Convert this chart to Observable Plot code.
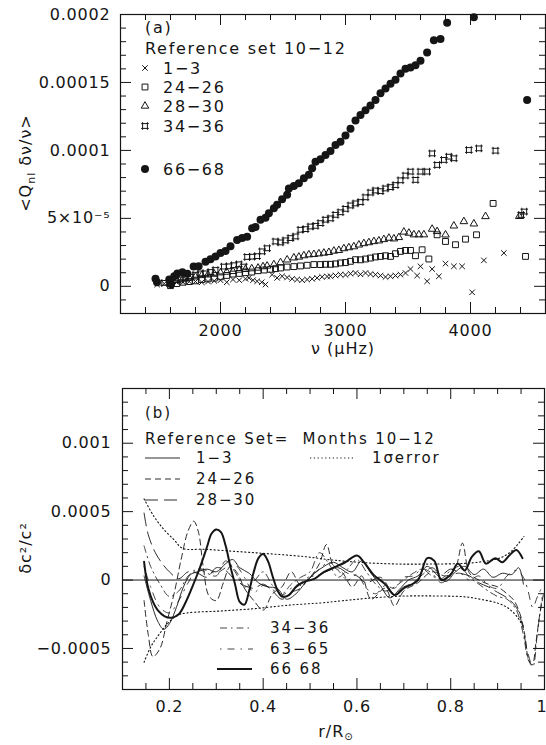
<!DOCTYPE html>
<html><head><meta charset="utf-8">
<script src="https://cdn.jsdelivr.net/npm/d3@7"></script>
<script src="https://cdn.jsdelivr.net/npm/@observablehq/plot@0.6"></script>
<style>
body{margin:0;background:#fff;}
#wrap{position:relative;width:546px;height:745px;background:#fff;}
#wrap svg{position:absolute;left:0;display:block;}
svg text{font-family:"DejaVu Sans",sans-serif;}
g[aria-label="x-axis tick label"] text, g[aria-label="y-axis tick label"] text{letter-spacing:0.8px;}
</style></head><body><div id="wrap"></div>
<script>
// ================= Panel (a) data: nu (μHz) and <Q δν/ν> in units of 1e-5 =================
const seriesNamesA = ["1−3", "24−26", "28−30", "34−36", "66−68"];
const nu13 = [1493,1550,1600,1650,1700,1750,1800,1850,1900,1950,2000,2050,2100,2150,2200,2227,2260,2293,2330,2360,2413,2453,2493,2533,2573,2613,2653,2693,2733,2773,2813,2853,2880,2920,2960,3000,3040,3080,3120,3160,3200,3240,3280,3320,3360,3400,3440,3480,3520,3573,3600,3653,3693,3747,3800,3867,3933,4013,4107,4267];
const q13  = [0.13,0.2,0.25,0.3,0.3,0.35,0.35,0.3,0.35,0.4,0.45,0.3,0.5,0.45,0.55,0.62,0.45,0.37,0.3,0.13,0.86,0.62,0.74,0.65,0.55,0.5,0.45,0.5,0.55,0.62,0.7,0.72,0.74,0.8,0.86,0.84,0.93,0.98,0.88,0.98,0.9,0.86,0.79,0.69,0.74,0.79,0.86,0.98,1.27,0.79,1.47,0.37,1.27,0.74,1.67,1.47,1.47,-0.44,1.91,2.45];
const nu2426 = [1600,1650,1700,1750,1800,1850,1900,1950,2000,2050,2100,2150,2200,2250,2300,2350,2400,2440,2480,2533,2587,2640,2693,2747,2800,2840,2880,2920,2960,3000,3040,3080,3120,3160,3200,3240,3280,3320,3360,3400,3440,3480,3520,3560,3613,3667,3733,3800,3880,3960,4048,4181,4440];
const q2426  = [0.05,0.2,0.3,0.35,0.4,0.5,0.55,0.6,0.7,0.8,0.9,0.95,1.0,1.05,1.15,1.2,1.25,1.3,1.35,1.42,1.45,1.5,1.55,1.6,1.6,1.62,1.62,1.65,1.72,1.75,1.84,1.96,1.95,2.01,2.08,2.16,2.2,2.25,2.2,2.4,2.57,2.64,2.64,2.25,2.69,2.01,3.79,3.3,3.06,3.47,3.79,6.1,2.2];
const nu2830 = [1600,1650,1700,1750,1800,1850,1900,1950,2000,2050,2100,2150,2200,2250,2300,2340,2373,2427,2480,2533,2587,2627,2667,2707,2747,2787,2827,2867,2907,2947,2987,3027,3067,3107,3147,3187,3227,3267,3307,3347,3387,3427,3467,3507,3547,3587,3627,3693,3733,3800,3867,3947,4027,4120,4390];
const q2830  = [0.3,0.45,0.55,0.6,0.7,0.8,0.85,0.9,1.0,1.05,1.1,1.2,1.25,1.3,1.35,1.45,1.5,1.6,1.75,1.95,2.1,2.16,2.26,2.33,2.35,2.4,2.45,2.5,2.6,2.65,2.78,2.85,2.92,3.05,3.15,3.22,3.3,3.35,3.45,3.55,3.5,3.6,4.0,3.92,3.8,3.8,3.8,4.21,4.04,3.79,4.45,4.77,4.6,5.14,5.15];
const nu3436 = [1550,1600,1640,1680,1720,1760,1800,1840,1880,1920,1960,2027,2067,2107,2147,2187,2213,2253,2293,2333,2373,2440,2480,2520,2560,2600,2640,2680,2720,2760,2800,2840,2880,2920,2960,3000,3040,3080,3120,3160,3200,3240,3280,3320,3360,3400,3440,3480,3520,3560,3600,3653,3693,3733,3787,3827,3867,3987,4067,4200,4405,4430];
const q3436  = [0.25,0.35,0.45,0.5,0.6,0.7,0.85,0.95,0.95,1.05,1.2,1.45,1.47,1.55,1.62,1.45,2.16,2.18,2.22,2.57,2.8,3.3,3.23,3.38,3.55,3.67,4.16,4.21,4.4,4.45,4.65,4.9,5.0,5.26,5.45,5.7,5.95,6.1,6.2,6.55,6.9,7.05,7.0,7.2,7.3,7.45,7.8,8.15,8.44,7.83,8.44,8.44,9.78,8.93,9.3,9.54,9.42,10.03,10.15,9.98,5.25,5.5];
const nu6668 = [1480,1492,1590,1605,1630,1655,1695,1735,1785,1825,1880,1920,1960,2000,2040,2080,2133,2173,2213,2253,2280,2320,2360,2387,2427,2453,2493,2533,2547,2587,2627,2667,2707,2733,2760,2800,2840,2880,2920,2960,3000,3040,3080,3120,3160,3200,3240,3280,3320,3360,3400,3440,3480,3520,3560,3600,3653,3707,3760,3813,4027,4453];
const q6668  = [0.55,0.3,0.5,0.15,0.75,0.95,1.03,0.92,1.45,1.47,1.8,2.0,2.2,2.45,2.6,2.95,3.4,3.55,3.65,4.28,4.36,4.9,5.05,5.38,5.75,6.0,6.4,6.73,7.2,7.39,7.58,7.95,8.2,8.68,9.17,9.35,9.66,9.95,10.4,10.64,11.1,11.6,12.2,12.6,12.96,13.3,13.7,14.2,14.55,14.9,15.2,15.65,16.0,16.1,16.26,16.6,17.2,18.1,18.2,19.4,19.8,13.7];

// axis ticks and labels (a)
const aXMajor = [2000, 3000, 4000];
const aXMinor = [1400,1600,1800,2200,2400,2600,2800,3200,3400,3600,3800,4200,4400];
const aYMajor = [0, 5e-5, 1e-4, 1.5e-4, 2e-4];
const aYLabels = ["0", "5×10⁻⁵", "0.0001", "0.00015", "0.0002"];
const aYMinor = [-1e-5,1e-5,2e-5,3e-5,4e-5,6e-5,7e-5,8e-5,9e-5,1.1e-4,1.2e-4,1.3e-4,1.4e-4,1.6e-4,1.7e-4,1.8e-4,1.9e-4];

// ================= Panel (b) data: r/R and δc²/c² in units of 1e-4 =================
const seriesNamesB = ["1−3", "24−26", "28−30", "34−36", "63−65", "66 68"];
const r13 = [0.146,0.16,0.175,0.188,0.20,0.215,0.23,0.245,0.26,0.28,0.30,0.32,0.335,0.35,0.37,0.39,0.41,0.43,0.45,0.47,0.49,0.51,0.53,0.55,0.57,0.59,0.61,0.63,0.65,0.67,0.69,0.71,0.73,0.75,0.77,0.79,0.81,0.83,0.85,0.87,0.89,0.91,0.93,0.945,0.955];
const c13 = [0.3,-1.5,-3.0,-3.6,-3.2,-2.0,-0.5,0.4,0.6,0.8,0.6,1.2,1.5,0.9,0.5,-0.2,-0.5,-0.6,-1.4,-1.0,-0.2,0.5,1.0,1.3,0.9,0.6,1.4,0.5,-0.4,-1.3,-0.7,0.0,0.3,1.0,0.4,-0.1,0.6,1.0,0.4,0.8,0.2,0.5,0.4,0.9,-0.3];
const r2426 = [0.146,0.155,0.165,0.18,0.195,0.21,0.225,0.24,0.252,0.262,0.272,0.285,0.30,0.315,0.33,0.345,0.36,0.38,0.40,0.42,0.44,0.46,0.48,0.50,0.52,0.535,0.55,0.57,0.59,0.61,0.63,0.66,0.68,0.70,0.73,0.76,0.79,0.81,0.825,0.84,0.86,0.88,0.90,0.92,0.935,0.948,0.958,0.966,0.974,0.982,0.99,0.998];
const c2426 = [-1.5,-4.0,-5.6,-5.0,-3.0,-1.0,1.5,3.6,4.3,3.5,1.0,-1.2,-1.5,-0.2,1.0,0.5,-0.6,-1.5,-2.2,-1.0,-0.5,0.6,-0.4,0.2,1.2,2.6,1.0,0.5,-0.5,0.3,-1.4,-0.6,-1.9,-0.8,-0.2,0.6,0.3,0.9,2.7,0.5,0.0,-0.3,-0.5,-1.0,-1.5,-2.5,-4.0,-5.8,-6.2,-4.5,-2.5,-1.0];
const r2830 = [0.146,0.155,0.17,0.185,0.20,0.22,0.24,0.26,0.28,0.30,0.32,0.34,0.36,0.38,0.40,0.42,0.44,0.46,0.48,0.50,0.52,0.54,0.56,0.58,0.60,0.62,0.65,0.68,0.70,0.72,0.74,0.76,0.78,0.80,0.82,0.84,0.86,0.88,0.90,0.92,0.94,0.952,0.962,0.97];
const c2830 = [4.9,3.3,2.0,1.2,0.6,0.1,0.6,0.5,0.2,0.9,0.7,0.0,-0.4,-0.6,-0.3,-0.8,-1.4,-0.9,-0.6,0.2,0.4,0.7,0.9,0.5,0.3,-0.2,0.2,-1.0,-0.5,-0.2,0.4,0.9,0.4,0.8,0.5,0.3,-0.2,-0.5,-0.9,-1.3,-2.0,-3.2,-5.0,-6.0];
const r3436 = [0.146,0.16,0.18,0.20,0.22,0.24,0.26,0.28,0.30,0.32,0.34,0.36,0.38,0.40,0.42,0.44,0.46,0.48,0.50,0.52,0.54,0.56,0.58,0.60,0.62,0.64,0.66,0.68,0.70,0.72,0.74,0.76,0.78,0.80,0.82,0.84,0.86,0.88,0.90,0.92,0.94,0.955,0.965,0.975,0.985,0.995];
const c3436 = [2.5,1.0,-0.3,-1.2,-0.8,0.3,0.8,0.5,0.3,1.4,0.6,-0.5,-0.1,0.6,-0.4,-1.0,-0.3,0.2,0.6,2.0,1.2,0.2,0.8,1.5,0.6,-0.3,-0.8,-0.5,0.0,0.5,0.8,0.3,0.1,0.7,1.0,0.2,-0.3,-0.8,-1.2,-1.4,-2.2,-4.0,-5.8,-6.3,-3.8,-1.2];
const r6365 = [0.146,0.16,0.18,0.20,0.22,0.24,0.26,0.28,0.30,0.32,0.34,0.36,0.38,0.40,0.42,0.44,0.46,0.48,0.50,0.52,0.54,0.56,0.58,0.60,0.62,0.64,0.66,0.68,0.70,0.72,0.74,0.76,0.78,0.80,0.82,0.84,0.86,0.88,0.90,0.92,0.94,0.955,0.965,0.975,0.985,0.995];
const c6365 = [1.0,-0.5,-2.0,-2.4,-1.5,-0.2,0.8,0.7,0.5,0.9,1.1,0.2,-0.9,-0.4,-0.7,-1.1,-0.6,-0.2,0.3,0.8,1.3,0.7,0.0,0.4,-0.6,-1.0,-0.4,-0.6,0.2,0.3,0.8,0.5,-0.2,0.3,0.5,0.0,0.3,-0.4,-0.6,0.3,0.7,0.2,-0.8,-2.0,-1.2,-0.5];
const r6668 = [0.146,0.150,0.155,0.165,0.175,0.19,0.205,0.22,0.235,0.25,0.265,0.28,0.29,0.30,0.31,0.32,0.33,0.34,0.35,0.36,0.37,0.38,0.39,0.40,0.41,0.42,0.43,0.44,0.455,0.47,0.49,0.51,0.53,0.55,0.575,0.60,0.615,0.635,0.66,0.68,0.70,0.73,0.75,0.765,0.78,0.80,0.815,0.83,0.845,0.86,0.875,0.895,0.91,0.925,0.94,0.953];
const c6668 = [1.34,0.3,-0.6,-1.6,-2.2,-2.65,-2.75,-2.5,-1.6,-0.4,0.9,2.4,3.4,3.7,3.5,2.5,1.0,-0.3,-1.6,-1.8,-0.8,0.6,1.6,1.9,1.4,0.3,-0.7,-1.2,-1.1,-0.5,-0.1,0.1,0.6,0.9,1.3,1.8,1.3,0.4,-0.3,-1.1,-0.6,0.0,1.6,1.4,0.0,0.4,1.2,0.7,1.7,2.1,1.2,1.6,1.3,1.8,2.2,1.6];
const rErrUp = [0.146,0.167,0.189,0.210,0.228,0.274,0.346,0.417,0.489,0.546,0.617,0.689,0.760,0.831,0.867,0.903,0.924,0.942,0.956];
const errUp  = [5.93,4.65,3.67,2.94,2.32,2.25,2.08,1.91,1.71,1.47,1.27,1.17,1.17,1.22,1.34,1.59,1.96,2.57,3.18];
const rErrLo = [0.146,0.160,0.174,0.196,0.217,0.239,0.31,0.382,0.453,0.524,0.567,0.617,0.689,0.760,0.831,0.867,0.903,0.924,0.942,0.956];
const errLo  = [-6.01,-4.9,-4.17,-3.19,-2.58,-2.4,-2.26,-2.09,-1.84,-1.67,-1.52,-1.35,-1.18,-1.16,-1.23,-1.43,-1.72,-2.09,-2.7,-3.44];

const bXMajor = [0.2, 0.4, 0.6, 0.8, 1.0];
const bXLabels = ["0.2", "0.4", "0.6", "0.8", "1"];
const bXMinor = [0.15,0.25,0.3,0.35,0.45,0.5,0.55,0.65,0.7,0.75,0.85,0.9,0.95];
const bYMajor = [-5e-4, 0, 5e-4, 1e-3];
const bYLabels = ["−0.0005", "0", "0.0005", "0.001"];
const bYMinor = [-7e-4,-6e-4,-4e-4,-3e-4,-2e-4,-1e-4,1e-4,2e-4,3e-4,4e-4,6e-4,7e-4,8e-4,9e-4,1.1e-3,1.2e-3,1.3e-3];

// ================= helpers =================
const INK = "#151515";
const W = 546;
const rows = (xs, vs, k) => xs.map((x, i) => ({x, y: vs[i] * k}));
const hashSym = {draw(ctx, size) {
  const s = Math.sqrt(size) / 2, e = s * 0.6;
  ctx.moveTo(-s - e, -s); ctx.lineTo(s + e, -s);
  ctx.moveTo(-s - e, s); ctx.lineTo(s + e, s);
  ctx.moveTo(-s, -s - e); ctx.lineTo(-s, s + e);
  ctx.moveTo(s, -s - e); ctx.lineTo(s, s + e);
}};
function inwardTicks(xMaj, xMin, yMaj, yMin, pw, ph) {
  const o = {stroke: INK, strokeWidth: 1};
  const L = 11, l = 6;
  return [
    Plot.tickX(xMaj, {...o, x: d => d, insetTop: ph - L}),
    Plot.tickX(xMaj, {...o, x: d => d, insetBottom: ph - L}),
    Plot.tickX(xMin, {...o, x: d => d, insetTop: ph - l}),
    Plot.tickX(xMin, {...o, x: d => d, insetBottom: ph - l}),
    Plot.tickY(yMaj, {...o, y: d => d, insetRight: pw - L}),
    Plot.tickY(yMaj, {...o, y: d => d, insetLeft: pw - L}),
    Plot.tickY(yMin, {...o, y: d => d, insetRight: pw - l}),
    Plot.tickY(yMin, {...o, y: d => d, insetLeft: pw - l})
  ];
}
function addText(g, x, y, str, opts = {}) {
  const t = g.append("text").attr("x", x).attr("y", y).attr("dy", "0.35em")
    .attr("font-size", opts.size || 16).attr("fill", INK)
    .attr("text-anchor", opts.anchor || "start")
    .style("letter-spacing", (opts.ls ?? 1.7) + "px")
    .text(str);
  if (opts.rotate) t.attr("transform", `rotate(-90,${x},${y})`);
  return t;
}

// ================= Panel (a) =================
const mA = {t: 14, r: 1, b: 57, l: 120}, hA = 370, topA = 0;
const pwA = W - mA.l - mA.r, phA = hA - mA.t - mA.b;
const svgA = Plot.plot({
  width: W, height: hA,
  marginTop: mA.t, marginRight: mA.r, marginBottom: mA.b, marginLeft: mA.l,
  x: {domain: [1200, 4600]},
  y: {domain: [-2e-5, 2e-4]},
  style: {fontFamily: "DejaVu Sans", fontSize: "16px", background: "white", color: INK},
  marks: [
    ...inwardTicks(aXMajor, aXMinor, aYMajor, aYMinor, pwA, phA),
    Plot.axisX(aXMajor, {anchor: "bottom", tickSize: 0, tickPadding: 11, label: null, tickFormat: d => String(d), fontSize: 16}),
    Plot.axisY(aYMajor, {anchor: "left", tickSize: 0, tickPadding: 10, label: null, tickFormat: d => aYLabels[aYMajor.indexOf(d)], fontSize: 16}),
    Plot.dot(rows(nu13, q13, 1e-5), {x: "x", y: "y", symbol: "times", r: 2.6, stroke: INK, fill: "none", strokeWidth: 1}),
    Plot.dot(rows(nu2426, q2426, 1e-5), {x: "x", y: "y", symbol: "square", r: 3.3, stroke: INK, fill: "none", strokeWidth: 1}),
    Plot.dot(rows(nu2830, q2830, 1e-5), {x: "x", y: "y", symbol: "triangle", r: 2.8, stroke: INK, fill: "none", strokeWidth: 1}),
    Plot.dot(rows(nu3436, q3436, 1e-5), {x: "x", y: "y", symbol: hashSym, r: 2.7, stroke: INK, fill: "none", strokeWidth: 1}),
    Plot.dot(rows(nu6668, q6668, 1e-5), {x: "x", y: "y", symbol: "circle", r: 4, fill: INK, stroke: "none"}),
    Plot.frame({stroke: INK, strokeWidth: 1.2})
  ]
});
svgA.style.top = topA + "px";
document.getElementById("wrap").appendChild(svgA);
{
  const g = d3.select(svgA).append("g");
  addText(g, 145, 27, "(a)");
  addText(g, 145, 48, "Reference set 10−12");
  const symsA = [d3.symbolTimes, d3.symbolSquare, d3.symbolTriangle, hashSym, d3.symbolCircle];
  const rA = [2.6, 3.3, 2.8, 2.7, 4];
  const yA = [68, 87, 106, 126, 169];
  seriesNamesA.forEach((name, i) => {
    const filled = i === 4;
    g.append("path").attr("transform", `translate(145,${yA[i]})`)
      .attr("d", d3.symbol(symsA[i], Math.PI * rA[i] * rA[i])())
      .attr("fill", filled ? INK : "none").attr("stroke", filled ? "none" : INK).attr("stroke-width", 1);
    addText(g, 163, yA[i], name);
  });
  const t = addText(g, 25, 163, "<Q", {anchor: "middle", rotate: true, ls: 1});
  t.append("tspan").attr("font-size", 11).attr("dy", "4").text("nl");
  t.append("tspan").attr("dy", "-4").text(" δν/ν>");
  addText(g, 343, 348, "ν (μHz)", {anchor: "middle", ls: 1});
}

// ================= Panel (b) =================
const mB = {t: 18, r: 2, b: 56, l: 122}, hB = 375, topB = 370;
const pwB = W - mB.l - mB.r, phB = hB - mB.t - mB.b;
const K = 1e-4;
const lineStyles = [
  {data: rows(r13, c13, K), strokeWidth: 0.9, dash: null},
  {data: rows(r2426, c2426, K), strokeWidth: 0.9, dash: "6,4"},
  {data: rows(r2830, c2830, K), strokeWidth: 0.9, dash: "13,6"},
  {data: rows(r3436, c3436, K), strokeWidth: 0.8, dash: "7,4,1.5,4"},
  {data: rows(r6365, c6365, K), strokeWidth: 0.8, dash: "1.5,6,7,6"},
  {data: rows(r6668, c6668, K), strokeWidth: 2, dash: null}
];
const svgB = Plot.plot({
  width: W, height: hB,
  marginTop: mB.t, marginRight: mB.r, marginBottom: mB.b, marginLeft: mB.l,
  x: {domain: [0.1, 1.0]},
  y: {domain: [-8e-4, 1.4e-3]},
  style: {fontFamily: "DejaVu Sans", fontSize: "16px", background: "white", color: INK},
  marks: [
    ...inwardTicks(bXMajor, bXMinor, bYMajor, bYMinor, pwB, phB),
    Plot.axisX(bXMajor, {anchor: "bottom", tickSize: 0, tickPadding: 11, label: null, tickFormat: d => bXLabels[bXMajor.indexOf(d)], fontSize: 16}),
    Plot.axisY(bYMajor, {anchor: "left", tickSize: 0, tickPadding: 11, label: null, tickFormat: d => bYLabels[bYMajor.indexOf(d)], fontSize: 16}),
    Plot.ruleY([0], {stroke: INK, strokeWidth: 1}),
    Plot.line(rows(rErrUp, errUp, K), {x: "x", y: "y", stroke: INK, strokeWidth: 1.1, strokeDasharray: "1.2,2.6", curve: "catmull-rom"}),
    Plot.line(rows(rErrLo, errLo, K), {x: "x", y: "y", stroke: INK, strokeWidth: 1.1, strokeDasharray: "1.2,2.6", curve: "catmull-rom"}),
    ...lineStyles.map(s => Plot.line(s.data, {x: "x", y: "y", stroke: INK, strokeWidth: s.strokeWidth, strokeDasharray: s.dash, curve: "catmull-rom"})),
    Plot.frame({stroke: INK, strokeWidth: 1.2})
  ]
});
svgB.style.top = topB + "px";
document.getElementById("wrap").appendChild(svgB);
// keep the final "1" tick label inside the picture
{
  const lab = d3.select(svgB).selectAll('g[aria-label="x-axis tick label"] text');
  const n = lab.size();
  lab.filter((d, i) => i === n - 1).attr("text-anchor", "end").attr("dx", 3);
}
{
  const g = d3.select(svgB).append("g");
  const Y = y => y - topB;
  const fb = {size: 15, ls: 1.9};
  addText(g, 145, Y(413), "(b)", fb);
  addText(g, 145, Y(439), "Reference Set=  Months 10−12", fb);
  const legY = [458, 479, 500, 628, 649, 669];
  const legX = [[145, 180, 196], [145, 180, 196], [145, 180, 196], [220, 253, 270], [220, 253, 270], [217, 252, 270]];
  seriesNamesB.forEach((name, i) => {
    const s = lineStyles[i];
    g.append("line").attr("x1", legX[i][0]).attr("x2", legX[i][1]).attr("y1", Y(legY[i])).attr("y2", Y(legY[i]))
      .attr("stroke", INK).attr("stroke-width", s.strokeWidth).attr("stroke-dasharray", s.dash);
    addText(g, legX[i][2], Y(legY[i]), name, fb);
  });
  g.append("line").attr("x1", 310).attr("x2", 353).attr("y1", Y(458)).attr("y2", Y(458))
    .attr("stroke", INK).attr("stroke-width", 1.1).attr("stroke-dasharray", "1.2,2.6");
  addText(g, 372, Y(458), "1σerror", fb);
  addText(g, 25, Y(548), "δc²/c²", {anchor: "middle", rotate: true, ls: 1});
  const t = addText(g, 336, Y(731), "r/R", {anchor: "middle", ls: 1});
  t.append("tspan").attr("font-size", 10).attr("dy", "3").text("⊙");
}
</script></body></html>
